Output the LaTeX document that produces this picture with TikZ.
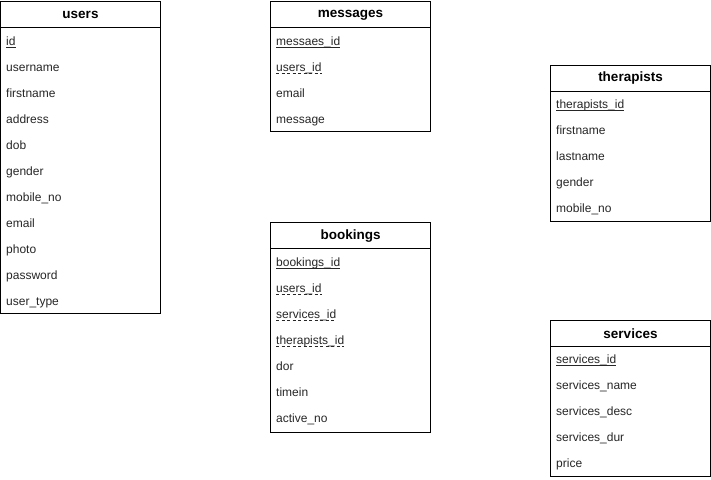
\documentclass[tikz,border=0pt]{standalone}
\usepackage{fontspec}
\setmainfont{Liberation Sans}
\usetikzlibrary{positioning}

\tikzset{
  tbl/.style={draw, line width=1pt},
  head/.style={font=\fontsize{13.5}{15}\selectfont\bfseries},
  field/.style={anchor=base west, inner sep=0pt, text=black!85, font=\fontsize{12}{14}\selectfont},
  pk/.style={line width=0.8pt, black!85},
  fk/.style={line width=0.8pt, black!85, dash pattern=on 3pt off 2.5pt},
}

\begin{document}
\begin{tikzpicture}[x=1pt,y=-1pt]
      \useasboundingbox (0,0) rectangle (711,479);
      % users
      \draw[tbl] (0.5,1.5) rectangle (160.5,313.5);
      \draw[tbl] (0.5,27.5) -- (160.5,27.5);
      \node[head] (users) at (80.5,15) {users};
      \node[field] (u-id) at (6,45.5) {id};
      \node[field] (u-username) at (6,71.5) {username};
      \node[field] (u-firstname) at (6,97.5) {firstname};
      \node[field] (u-address) at (6,123.5) {address};
      \node[field] (u-dob) at (6,149.5) {dob};
      \node[field] (u-gender) at (6,175.5) {gender};
      \node[field] (u-mobile) at (6,201.5) {mobile\_no};
      \node[field] (u-email) at (6,227.5) {email};
      \node[field] (u-photo) at (6,253.5) {photo};
      \node[field] (u-password) at (6,279.5) {password};
      \node[field] (u-type) at (6,305.5) {user\_type};
      \draw[pk] ([yshift=-2pt]u-id.base west) -- ([yshift=-2pt]u-id.base east);
      % messages
      \draw[tbl] (270.5,1.5) rectangle (430.5,131.5);
      \draw[tbl] (270.5,27.5) -- (430.5,27.5);
      \node[head] (messages) at (350.5,15) {messages};
      \node[field] (m-id) at (276,45) {messaes\_id};
      \node[field] (m-users) at (276,71) {users\_id};
      \node[field] (m-email) at (276,97) {email};
      \node[field] (m-message) at (276,123) {message};
      \draw[pk] ([yshift=-2pt]m-id.base west) -- ([yshift=-2pt]m-id.base east);
      \draw[fk] ([yshift=-2pt]m-users.base west) -- ([yshift=-2pt]m-users.base east);
      % therapists
      \draw[tbl] (550.5,65.5) rectangle (710.5,221.5);
      \draw[tbl] (550.5,91.5) -- (710.5,91.5);
      \node[head] (therapists) at (630.5,78.5) {therapists};
      \node[field] (t-id) at (556,108.5) {therapists\_id};
      \node[field] (t-firstname) at (556,134.5) {firstname};
      \node[field] (t-lastname) at (556,160.5) {lastname};
      \node[field] (t-gender) at (556,186.5) {gender};
      \node[field] (t-mobile) at (556,212.5) {mobile\_no};
      \draw[pk] ([yshift=-2pt]t-id.base west) -- ([yshift=-2pt]t-id.base east);
      % bookings
      \draw[tbl] (270.5,222.5) rectangle (430.5,432.5);
      \draw[tbl] (270.5,248.5) -- (430.5,248.5);
      \node[head] (bookings) at (350.5,236) {bookings};
      \node[field] (b-id) at (276,266) {bookings\_id};
      \node[field] (b-users) at (276,292) {users\_id};
      \node[field] (b-services) at (276,318) {services\_id};
      \node[field] (b-therapists) at (276,344) {therapists\_id};
      \node[field] (b-dor) at (276,370) {dor};
      \node[field] (b-timein) at (276,396) {timein};
      \node[field] (b-active) at (276,422) {active\_no};
      \draw[pk] ([yshift=-2pt]b-id.base west) -- ([yshift=-2pt]b-id.base east);
      \draw[fk] ([yshift=-2pt]b-users.base west) -- ([yshift=-2pt]b-users.base east);
      \draw[fk] ([yshift=-2pt]b-services.base west) -- ([yshift=-2pt]b-services.base east);
      \draw[fk] ([yshift=-2pt]b-therapists.base west) -- ([yshift=-2pt]b-therapists.base east);
      % services
      \draw[tbl] (550.5,320.5) rectangle (710.5,476.5);
      \draw[tbl] (550.5,346.5) -- (710.5,346.5);
      \node[head] (services) at (630.5,333.5) {services};
      \node[field] (s-id) at (556,363.5) {services\_id};
      \node[field] (s-name) at (556,389.5) {services\_name};
      \node[field] (s-desc) at (556,415.5) {services\_desc};
      \node[field] (s-dur) at (556,441.5) {services\_dur};
      \node[field] (s-price) at (556,467.5) {price};
      \draw[pk] ([yshift=-2pt]s-id.base west) -- ([yshift=-2pt]s-id.base east);
    \end{tikzpicture}
\end{document}
